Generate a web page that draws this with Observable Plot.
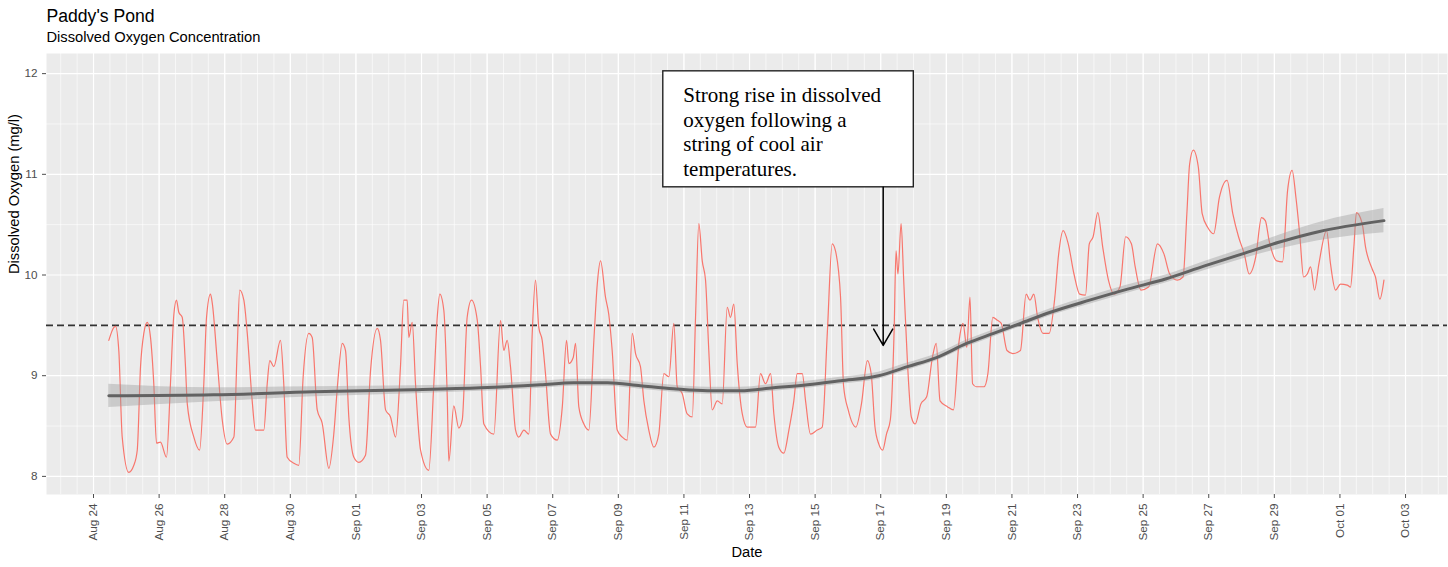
<!DOCTYPE html>
<html>
<head>
<meta charset="utf-8">
<script src="https://cdn.jsdelivr.net/npm/d3@7"></script>
<script src="https://cdn.jsdelivr.net/npm/@observablehq/plot@0.6"></script>
<style>
  html, body { margin: 0; padding: 0; background: #fff; }
  #chart svg { display: block; }
</style>
</head>
<body>
<div id="chart"></div>
<script>
// ---------------- data ----------------
// hours since 2018-08-24 00:00 UTC
const doHours = [
  11.2,14.9,16.1,18.5,21.0,25.8,29.5,32.0,34.4,36.8,39.3,41.7,44.1,46.1,49.0,53.4,56.3,58.8,60.7,62.4,
  64.9,67.3,68.6,73.4,77.6,80.7,82.7,85.6,86.9,90.5,94.2,97.8,102.7,105.1,107.0,110.0,112.5,116.1,118.5,124.6,
  127.1,129.0,131.9,136.8,139.2,141.7,146.6,150.2,153.4,157.5,160.0,163.7,167.3,172.2,175.8,178.8,182.0,184.4,186.8,190.5,
  194.1,199.0,202.7,207.6,210.0,213.7,217.3,221.0,224.6,227.0,229.5,230.7,233.2,235.6,239.3,245.3,249.0,251.5,253.4,256.3,
  258.8,260.0,263.6,267.3,269.8,273.4,276.6,280.8,283.2,285.6,292.9,297.8,300.2,302.7,305.1,308.8,311.2,314.9,318.5,321.0,
  323.4,325.8,328.3,330.7,334.4,339.3,343.0,346.1,347.8,351.0,352.7,355.1,358.8,362.4,366.1,368.6,371.0,374.6,377.0,379.5,
  383.2,386.9,390.5,394.2,396.6,400.2,402.7,406.3,410.0,413.6,417.3,421.0,424.6,427.1,430.8,434.4,438.1,440.5,442.9,445.4,
  447.8,450.2,452.7,456.4,460.0,463.7,466.1,468.5,471.0,474.7,478.3,484.4,488.0,491.7,495.4,497.8,501.4,505.1,508.8,512.4,
  514.9,518.6,521.0,524.6,529.5,533.2,536.9,540.5,542.9,546.6,548.8,552.2,557.8,561.9,566.2,569.0,571.8,574.6,577.4,580.2,
  583.0,585.8,587.2,588.6,590.9,592.8,595.6,598.4,601.2,605.4,609.6,613.8,616.6,619.4,625.0,629.2,633.4,636.2,639.0,641.3,
  643.2,646.0,651.6,654.4,658.0,661.4,664.2,668.4,672.6,678.2,682.4,685.2,688.0,690.8,695.0,699.2,703.4,706.2,709.5,713.2,
  717.4,721.6,725.8,728.6,731.4,734.8,738.4,742.6,746.8,751.0,755.2,759.4,762.2,766.4,772.0,778.5,783.2,787.4,793.0,797.2,
  800.0,802.0,804.7,808.4,811.2,815.4,819.6,823.8,829.4,833.6,837.8,842.0,845.6,850.4,854.6,857.4,860.2,865.8,870.0,873.7,
  877.0,879.8,882.6,885.4,888.1,890.5,893.4,896.6,902.2,905.1,908.8,912.4,917.3,919.7,922.2,924.1,928.3,930.7,935.6,938.0,
  941.2,944.2
];
const doValues = [
  9.35,9.48,9.49,9.25,8.39,8.04,8.11,8.26,9.09,9.42,9.53,9.38,8.92,8.33,8.34,8.19,8.92,9.61,9.75,9.63,
  9.58,9.09,8.72,8.39,8.26,8.92,9.58,9.81,9.72,9.15,8.56,8.32,8.39,9.25,9.85,9.75,9.42,8.75,8.46,8.46,
  8.92,9.15,9.09,9.35,8.92,8.19,8.13,8.11,8.99,9.42,9.38,8.66,8.53,8.08,8.42,8.95,9.32,9.25,8.59,8.19,
  8.14,8.21,9.05,9.47,9.35,8.66,8.59,8.39,9.09,9.75,9.75,9.38,9.53,8.92,8.26,8.06,8.92,9.58,9.81,9.65,
  8.80,8.15,8.70,8.48,8.56,9.58,9.75,9.55,9.09,8.52,8.42,9.55,9.25,9.35,9.09,8.46,8.39,8.46,8.42,9.42,
  9.95,9.48,9.35,9.02,8.42,8.36,8.69,9.35,9.12,9.18,9.32,8.69,8.52,8.46,9.35,9.91,10.14,9.78,9.61,9.25,
  8.46,8.39,8.36,9.42,9.22,9.09,8.75,8.46,8.29,8.42,9.02,8.99,9.52,8.89,8.82,8.62,8.59,9.58,10.51,10.14,
  9.95,9.25,8.66,8.75,8.72,9.68,9.58,9.71,9.12,8.62,8.49,8.49,9.02,8.92,9.02,8.62,8.29,8.23,8.46,8.75,
  9.02,9.02,8.75,8.42,8.46,8.49,9.42,10.31,10.24,9.78,8.90,8.66,8.49,8.72,9.15,9.02,8.49,8.32,8.26,8.42,
  8.56,9.45,10.24,10.01,10.51,9.95,9.12,8.59,8.52,8.72,8.79,9.18,9.32,8.75,8.69,8.66,9.35,9.52,9.28,9.78,
  8.92,8.89,8.89,9.02,9.58,9.55,9.52,9.25,9.22,9.25,9.81,9.75,9.81,9.58,9.42,9.42,9.78,10.21,10.44,10.31,
  10.01,9.81,9.80,10.31,10.38,10.62,10.28,9.95,9.81,9.88,10.38,10.31,10.08,9.85,9.88,10.31,10.21,10.01,9.95,9.98,
  10.61,11.10,11.24,11.07,10.61,10.47,10.41,10.77,10.94,10.61,10.38,10.21,10.01,10.18,10.57,10.54,10.34,10.14,10.13,10.84,
  11.04,10.77,10.40,9.98,10.01,10.08,9.85,10.11,10.44,10.11,9.85,9.91,9.90,9.88,10.28,10.62,10.51,10.28,10.06,9.98,
  9.76,9.95
];
// loess-type smooth with its standard-error band
const smoothHours = [11.2,87.8,161.0,234.1,283.2,327.1,351.2,376.1,400.2,424.4,449.3,473.4,497.6,522.4,546.6,574.4,595.6,616.8,638.8,658.5,678.3,700.2,728.8,756.6,784.4,813.0,840.7,868.5,896.3,944.2];
const smoothFit   = [8.80,8.81,8.84,8.86,8.88,8.91,8.93,8.93,8.90,8.87,8.85,8.85,8.88,8.91,8.95,9.00,9.09,9.18,9.32,9.42,9.52,9.63,9.75,9.86,9.96,10.09,10.21,10.33,10.43,10.54];
const smoothSE    = [0.115,0.07,0.05,0.04,0.035,0.035,0.035,0.035,0.035,0.035,0.035,0.035,0.035,0.035,0.035,0.035,0.035,0.035,0.035,0.035,0.035,0.035,0.04,0.04,0.04,0.045,0.05,0.07,0.09,0.12];

const xTickDates = ["2018-08-24","2018-08-26","2018-08-28","2018-08-30","2018-09-01","2018-09-03","2018-09-05","2018-09-07","2018-09-09","2018-09-11","2018-09-13","2018-09-15","2018-09-17","2018-09-19","2018-09-21","2018-09-23","2018-09-25","2018-09-27","2018-09-29","2018-10-01","2018-10-03"];
const yTicks = [8, 9, 10, 11, 12];
const yMinor = [8.5, 9.5, 10.5, 11.5];
const threshold = [9.5];

const titleText = "Paddy's Pond";
const subtitleText = "Dissolved Oxygen Concentration";
const xLabel = "Date";
const yLabel = "Dissolved Oxygen (mg/l)";
const noteText = "Strong rise in dissolved\noxygen following a\nstring of cool air\ntemperatures.";
// annotation anchors in data units (hours since start, mg/l)
const noteBox = {h1: 416.9, h2: 600.2, v1: 10.871, v2: 12.023};
const noteTextAt = {h: 431.5, v: 11.887};
const noteArrow = {h: 577.8, v1: 10.871, v2: 9.30};
const xDomainHours = [-34.4, 990.7];
const yDomain = [7.82, 12.2];

// ---------------- build ----------------
const startUTC = Date.UTC(2018, 7, 24);
const toDate = h => new Date(startUTC + h * 3600e3);
const series = doHours.map((h, i) => ({t: toDate(h), v: doValues[i]}));
const smooth = smoothHours.map((h, i) => ({t: toDate(h), v: smoothFit[i], lo: smoothFit[i] - smoothSE[i], hi: smoothFit[i] + smoothSE[i]}));
const xTicks = xTickDates.map(s => new Date(s + "T00:00:00Z"));
const xDomain = xDomainHours.map(toDate);
const minorX = d3.utcHour.every(12).range(xDomain[0], xDomain[1]);
const fmt = d3.utcFormat("%b %d");

const sans = "'Liberation Sans', Arial, sans-serif";

const chart = Plot.plot({
  width: 1448,
  height: 567,
  marginTop: 53,
  marginLeft: 46,
  marginRight: 1,
  marginBottom: 73,
  style: {fontFamily: sans, background: "#fff"},
  x: {type: "utc", domain: xDomain},
  y: {domain: yDomain},
  marks: [
    Plot.frame({fill: "#EBEBEB", stroke: null}),
    Plot.ruleX(minorX, {stroke: "#fff", strokeWidth: 0.6}),
    Plot.ruleY(yMinor, {stroke: "#fff", strokeWidth: 0.6}),
    Plot.ruleX(xTicks, {stroke: "#fff", strokeWidth: 1.2}),
    Plot.ruleY(yTicks, {stroke: "#fff", strokeWidth: 1.2}),
    Plot.ruleY(threshold, {stroke: "#333", strokeWidth: 1.7, strokeDasharray: "7,4"}),
    Plot.line(series, {x: "t", y: "v", stroke: "#F8766D", strokeWidth: 1.2, curve: "monotone-x"}),
    Plot.areaY(smooth, {x: "t", y1: "lo", y2: "hi", fill: "#999", fillOpacity: 0.4, curve: "monotone-x"}),
    Plot.line(smooth, {x: "t", y: "v", stroke: "#626262", strokeWidth: 3, curve: "monotone-x"}),
    Plot.axisX({ticks: xTicks, tickFormat: fmt, tickRotate: -90, tickSize: 4, tickPadding: 5, fontSize: 11.7, color: "#4D4D4D", label: null}),
    Plot.axisY({ticks: yTicks, tickFormat: d3.format("d"), tickSize: 4, tickPadding: 5, fontSize: 11.7, color: "#4D4D4D", label: null}),
    // annotation
    Plot.rect([noteBox], {x1: d => toDate(d.h1), x2: d => toDate(d.h2), y1: "v1", y2: "v2", fill: "#fff", stroke: "#222", strokeWidth: 1.4}),
    Plot.text([noteTextAt], {x: d => toDate(d.h), y: "v", text: () => noteText, textAnchor: "start", lineAnchor: "top", lineHeight: 1.162, fontSize: 21, fontFamily: "'Liberation Serif', 'Times New Roman', serif", fill: "#000"}),
    Plot.arrow([noteArrow], {x1: d => toDate(d.h), x2: d => toDate(d.h), y1: "v1", y2: "v2", stroke: "#000", strokeWidth: 1.5, headLength: 19, headAngle: 60}),
    // titles and axis titles
    Plot.text([titleText], {frameAnchor: "top-left", text: d => d, dy: -31.5, lineAnchor: "bottom", textAnchor: "start", fontSize: 17.6, fill: "#000"}),
    Plot.text([subtitleText], {frameAnchor: "top-left", text: d => d, dy: -11.5, lineAnchor: "bottom", textAnchor: "start", fontSize: 14.7, fill: "#000"}),
    Plot.text([xLabel], {frameAnchor: "bottom", text: d => d, dy: 58, lineAnchor: "middle", fontSize: 14.7, fill: "#000"}),
    Plot.text([yLabel], {frameAnchor: "left", text: d => d, dx: -32, rotate: -90, lineAnchor: "middle", fontSize: 14.7, fill: "#000"})
  ]
});
document.getElementById("chart").appendChild(chart);
</script>
</body>
</html>
